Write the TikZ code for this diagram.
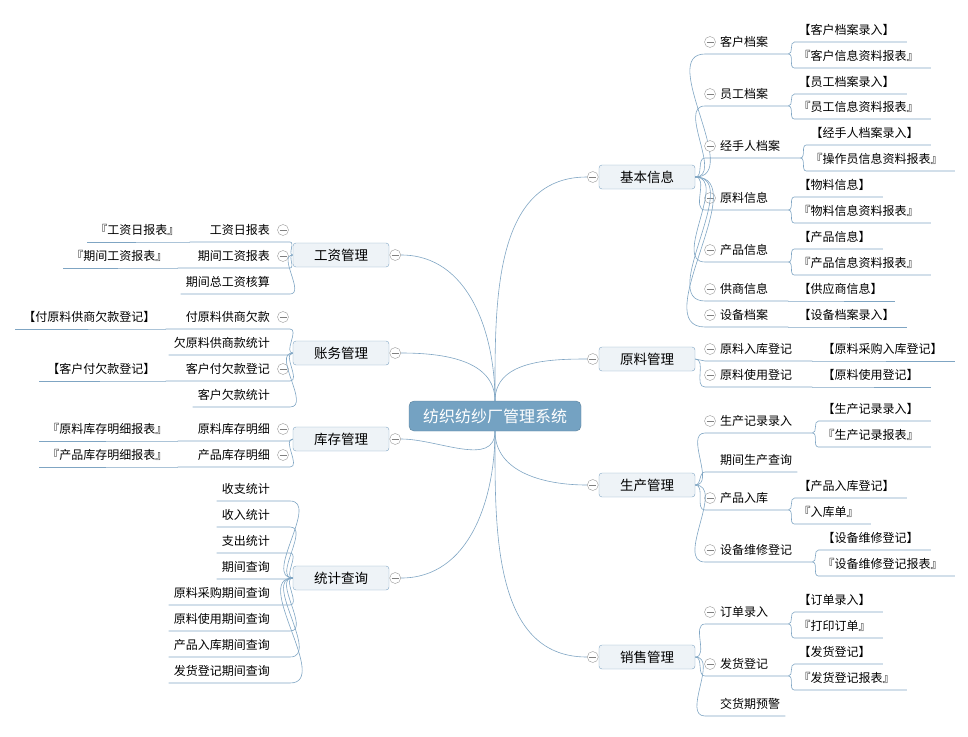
\documentclass[tikz,border=0pt]{standalone}
\usepackage{fontspec}
\setmainfont{Noto Sans CJK SC}
\usetikzlibrary{calc}
\definecolor{linec}{HTML}{7FA5C3}
\definecolor{boxfill}{HTML}{EEF3F7}
\definecolor{rootfill}{HTML}{74A2C2}
\begin{document}
\begin{tikzpicture}[x=1pt,y=-1pt]
    \tikzstyle{line}=[draw=linec, line width=0.6pt]
    \tikzstyle{root}=[fill=rootfill, draw=rootfill!80!black, rounded corners=5pt, text=white, font=\fontsize{16}{18}\selectfont, minimum width=172, minimum height=30]
    \tikzstyle{topic}=[fill=boxfill, draw=linec, rounded corners=3pt, font=\fontsize{13.5}{15}\selectfont, minimum width=96, minimum height=24]
    \tikzstyle{sub}=[inner sep=0pt, font=\fontsize{12}{14}\selectfont]
    \tikzstyle{fold}=[circle, draw=black!40, fill=white, minimum size=11pt, inner sep=0pt, path picture={\draw[black!50] ([xshift=-3.5pt]path picture bounding box.center) -- ([xshift=3.5pt]path picture bounding box.center);}]
    \useasboundingbox (0,0) rectangle (968,736);

    % root and topics
    \node[root] (c) at (495,416) {纺织纺纱厂管理系统};
    \node[topic] (jb) at (647,177) {基本信息};
    \node[topic] (yl) at (647,359) {原料管理};
    \node[topic] (sc) at (647,485) {生产管理};
    \node[topic] (xs) at (647,657) {销售管理};
    \node[topic] (gz) at (341,255) {工资管理};
    \node[topic] (zw) at (341,353) {账务管理};
    \node[topic] (kc) at (341,439) {库存管理};
    \node[topic] (tj) at (341,578) {统计查询};

    % curves from the root
    \foreach \t in {jb,yl}
        \draw[line] (c.north) to[out=90,in=180] ($(\t.west)+(-12,0)$);
    \foreach \t in {sc,xs}
        \draw[line] (c.south) to[out=-90,in=180] ($(\t.west)+(-12,0)$);
    \foreach \t in {gz,zw}
        \draw[line] (c.north) to[out=90,in=0] ($(\t.east)+(12,0)$);
    \foreach \t in {kc,tj}
        \draw[line] (c.south) to[out=-90,in=0] ($(\t.east)+(12,0)$);
    \foreach \t in {jb,yl,sc,xs}
        \node[fold] at ($(\t.west)+(-6,0)$) {};
    \foreach \t in {gz,zw,kc,tj}
        \node[fold] at ($(\t.east)+(6,0)$) {};

    % right side items
    \foreach \m/\y/\t/\f in {jb/42/客户档案/1, jb/94/员工档案/1, jb/146/经手人档案/1, jb/198/原料信息/1,
        jb/250/产品信息/1, jb/289/供商信息/1, jb/315/设备档案/1, yl/349/原料入库登记/1, yl/375/原料使用登记/1,
        sc/421/生产记录录入/1, sc/460/期间生产查询/0, sc/498/产品入库/1, sc/550/设备维修登记/1,
        xs/612/订单录入/1, xs/664/发货登记/1, xs/704/交货期预警/0} {
        \node[sub, anchor=west] (s-\y) at (720,\y) {\t};
        \coordinate (a-\y) at (705,\y+12);
        \coordinate (b-\y) at ($(s-\y.east)+(5+15*\f,12)$);
        \draw[line] (\m.east) to[out=0,in=180] (a-\y) -- (b-\y);
        \ifnum\f=1 \node[fold] at (710,\y) {}; \fi
    }
    \foreach \p/\y/\t in {42/30/【客户档案录入】, 42/56/『客户信息资料报表』, 94/82/【员工档案录入】, 94/107/『员工信息资料报表』,
        146/133/【经手人档案录入】, 146/159/『操作员信息资料报表』, 198/185/【物料信息】, 198/211/『物料信息资料报表』,
        250/237/【产品信息】, 250/263/『产品信息资料报表』, 289/289/【供应商信息】, 315/315/【设备档案录入】,
        349/349/【原料采购入库登记】, 375/375/【原料使用登记】, 421/409/【生产记录录入】, 421/435/『生产记录报表』,
        498/486/【产品入库登记】, 498/512/『入库单』, 550/538/【设备维修登记】, 550/564/『设备维修登记报表』,
        612/600/【订单录入】, 612/626/『打印订单』, 664/652/【发货登记】, 664/678/『发货登记报表』} {
        \node[sub, anchor=west] (l-\y) at ($(b-\p)+(10,\y-\p-12)$) {\t};
        \draw[line] (b-\p) to[out=0,in=180] ++(6,\y-\p) -- ($(l-\y.east)+(12,12)$);
    }

    % left side items
    \foreach \m/\y/\t/\f in {gz/230/工资日报表/1, gz/256/期间工资报表/1, gz/282/期间总工资核算/0,
        zw/317/付原料供商欠款/1, zw/343/欠原料供商款统计/0, zw/369/客户付欠款登记/1, zw/395/客户欠款统计/0,
        kc/429/原料库存明细/1, kc/455/产品库存明细/1,
        tj/489/收支统计/0, tj/515/收入统计/0, tj/541/支出统计/0, tj/567/期间查询/0, tj/593/原料采购期间查询/0,
        tj/619/原料使用期间查询/0, tj/645/产品入库期间查询/0, tj/671/发货登记期间查询/0} {
        \node[sub, anchor=east] (ls-\y) at (270,\y) {\t};
        \coordinate (la-\y) at (290,\y+12);
        \coordinate (lb-\y) at ($(ls-\y.west)+(-5-15*\f,12)$);
        \draw[line] (lb-\y) -- (la-\y) to[out=0,in=180] (\m.west);
        \ifnum\f=1 \node[fold] at (283,\y) {}; \fi
    }
    \foreach \p/\y/\t in {230/230/『工资日报表』, 256/256/『期间工资报表』, 317/317/【付原料供商欠款登记】,
        369/369/【客户付欠款登记】, 429/429/『原料库存明细报表』, 455/455/『产品库存明细报表』} {
        \node[sub, anchor=east] (ll-\y) at ($(lb-\p)+(-10,\y-\p-12)$) {\t};
        \draw[line] (lb-\p) to[out=180,in=0] ++(-6,\y-\p) -- ($(ll-\y.west)+(-8,12)$);
    }
\end{tikzpicture}
\end{document}
